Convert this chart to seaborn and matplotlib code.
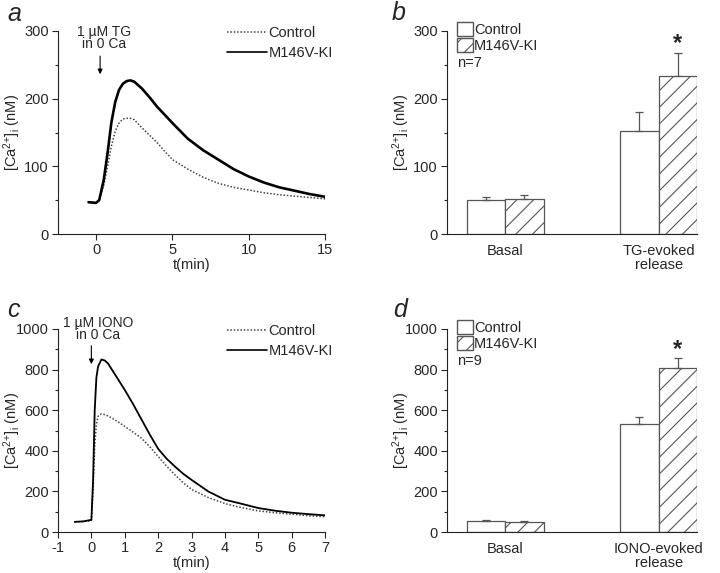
import pandas as pd
import matplotlib.pyplot as plt
import seaborn as sns
from matplotlib.patches import Patch
from matplotlib.lines import Line2D
from matplotlib.ticker import MultipleLocator

# ---- data ----
# panel a: TG-evoked release traces
t_a = [-0.5, 0.0, 0.2, 0.5, 0.75, 1.0, 1.25, 1.5, 1.75, 2.0, 2.25, 2.5, 3.0, 3.5,
       4.0, 4.5, 5.0, 6.0, 7.0, 8.0, 9.0, 10.0, 11.0, 12.0, 13.0, 14.0, 15.0]
ki_a = [47, 46, 50, 80, 120, 165, 195, 213, 222, 226, 227, 225, 215, 202,
        188, 176, 164, 141, 124, 110, 96, 85, 76, 69, 64, 59, 55]
ctrl_a = [47, 46, 50, 72, 100, 130, 152, 164, 170, 171, 171, 169, 157, 146,
          135, 122, 110, 96, 84, 75, 69, 65, 61, 58, 56, 54, 52]

# panel c: IONO-evoked release traces
t_c = [-0.5, -0.25, 0.0, 0.05, 0.1, 0.15, 0.2, 0.3, 0.4, 0.5, 0.75, 1.0, 1.25, 1.5,
       1.75, 2.0, 2.25, 2.5, 2.75, 3.0, 3.5, 4.0, 4.5, 5.0, 5.5, 6.0, 6.5, 7.0]
ki_c = [50, 52, 60, 250, 600, 760, 815, 850, 845, 830, 765, 700, 630, 555,
        480, 410, 362, 323, 287, 257, 200, 159, 139, 118, 105, 95, 88, 82]
ctrl_c = [50, 52, 55, 200, 420, 530, 570, 582, 578, 572, 548, 520, 492, 462,
          420, 372, 325, 282, 243, 210, 170, 140, 120, 104, 95, 88, 80, 75]

# panels b and d: bar summaries (mean, SEM)
groups_b = ['Basal', 'TG-evoked\nrelease']
ctrl_b = [50, 152]
ki_b = [52, 233]
ctrl_b_err = [5, 29]
ki_b_err = [6, 34]

groups_d = ['Basal', 'IONO-evoked\nrelease']
ctrl_d = [52, 530]
ki_d = [48, 809]
ctrl_d_err = [6, 38]
ki_d_err = [4, 50]

sns.set_style('ticks')
plt.rcParams['font.family'] = ['Liberation Sans', 'DejaVu Sans']
plt.rcParams['mathtext.default'] = 'regular'
plt.rcParams['axes.unicode_minus'] = False
plt.rcParams['font.size'] = 10.5
plt.rcParams['xtick.direction'] = 'out'
plt.rcParams['ytick.direction'] = 'out'
plt.rcParams['hatch.color'] = '#444444'
plt.rcParams['hatch.linewidth'] = 0.8

fig = plt.figure(figsize=(7.2, 5.73), dpi=100)
W, H = 720, 573


def add_ax(left, top, right, bottom):
    return fig.add_axes([left / W, 1 - bottom / H, (right - left) / W, (bottom - top) / H])


ylab = '[Ca$^{2{+}}$]$_{i}$ (nM)'


def style_ax(ax, ymaj, ymin, ylab_x):
    sns.despine(ax=ax)
    for s in ['left', 'bottom']:
        ax.spines[s].set_linewidth(0.8)
        ax.spines[s].set_color('#222222')
    ax.yaxis.set_major_locator(MultipleLocator(ymaj))
    ax.yaxis.set_minor_locator(MultipleLocator(ymin))
    ax.tick_params(which='major', length=4, width=0.8, labelsize=10.5, pad=2.5)
    ax.tick_params(which='minor', length=2.5, width=0.8)
    ax.set_ylabel(ylab, fontsize=10.5)
    ax.yaxis.set_label_coords(ylab_x, 0.5)


def trace_panel(ax, t, ctrl, ki, xlim, ylim, xmaj, ymaj, ymin, ki_lw,
                txt, arrow_x, arrow_from, arrow_to, txt_x, txt_y):
    df_c = pd.DataFrame({'t': t, 'ca': ctrl})
    df_k = pd.DataFrame({'t': t, 'ca': ki})
    sns.lineplot(data=df_c, x='t', y='ca', ax=ax, color='#444444', linestyle=(0, (1, 1.2)), linewidth=1.1)
    sns.lineplot(data=df_k, x='t', y='ca', ax=ax, color='black', linewidth=ki_lw)
    ax.set_xlim(*xlim)
    ax.set_ylim(*ylim)
    ax.xaxis.set_major_locator(MultipleLocator(xmaj))
    style_ax(ax, ymaj, ymin, -0.13)
    ax.set_xlabel('t(min)', fontsize=10.5, labelpad=1)
    ax.annotate('', xy=(arrow_x, arrow_to), xytext=(arrow_x, arrow_from),
                arrowprops=dict(arrowstyle='-|>', color='black', lw=0.8, mutation_scale=7))
    ax.text(txt_x, txt_y, txt, ha='center', va='bottom', fontsize=10, linespacing=0.85)
    handles = [Line2D([], [], color='#444444', linestyle=(0, (1, 1.2)), linewidth=1.1),
               Line2D([], [], color='black', linewidth=1.2)]
    ax.legend(handles, ['Control', 'M146V-KI'], loc='upper left', bbox_to_anchor=(0.633, 1.025),
              frameon=False, handlelength=2.75, handletextpad=0.1, labelspacing=0.4, fontsize=10.5,
              borderpad=0, borderaxespad=0)


def bar_panel(ax, groups, ctrl, ki, ctrl_err, ki_err, ylim, ymaj, ymin, n_txt, star_off):
    df = pd.DataFrame({
        'group': groups + groups,
        'cond': ['Control'] * len(groups) + ['M146V-KI'] * len(groups),
        'ca': ctrl + ki,
    })
    sns.barplot(data=df, x='group', y='ca', hue='cond', ax=ax, width=0.5, gap=0,
                palette=['white', 'white'], edgecolor='#555555', linewidth=0.9,
                errorbar=None, legend=False)
    errs = [ctrl_err, ki_err]
    bar_conts = list(ax.containers[:2])
    for i, cont in enumerate(bar_conts):
        for j, bar in enumerate(cont):
            if i == 1:
                bar.set_hatch('//')
            xc = bar.get_x() + bar.get_width() / 2
            ax.errorbar(xc, bar.get_height(), yerr=[[0], [errs[i][j]]], color='#555555',
                        capsize=3, elinewidth=0.9, capthick=0.9, fmt='none')
    top_bar = bar_conts[1][1]
    ax.text(top_bar.get_x() + top_bar.get_width() / 2, top_bar.get_height() + ki_err[1] + star_off,
            '*', ha='center', va='center', fontsize=17, fontweight='bold')
    ax.set_xlim(-0.38, 1.25)
    ax.set_ylim(*ylim)
    style_ax(ax, ymaj, ymin, -0.14)
    ax.tick_params(axis='x', length=0, pad=7)
    for lab in ax.get_xticklabels():
        lab.set_linespacing(1.05)
    ax.set_xlabel('')
    handles = [Patch(facecolor='white', edgecolor='#555555'),
               Patch(facecolor='white', edgecolor='#555555', hatch='//')]
    ax.legend(handles, ['Control', 'M146V-KI'], loc='upper left', bbox_to_anchor=(0.03, 1.06),
              frameon=False, handlelength=1.05, handleheight=1.15, handletextpad=0.1,
              labelspacing=0.05, fontsize=10.5, borderpad=0.1, borderaxespad=0.1)
    ax.text(0.04, 0.875, n_txt, transform=ax.transAxes, ha='left', va='top', fontsize=10.5)


# panel a
ax_a = add_ax(58, 31, 325, 234)
trace_panel(ax_a, t_a, ctrl_a, ki_a, (-2.5, 15), (0, 300), 5, 100, 50, 1.9,
            '1 \u00b5M TG\nin 0 Ca', 0.26, 267, 232, 0.49, 270)

# panel b
ax_b = add_ax(447, 31, 697, 234)
bar_panel(ax_b, groups_b, ctrl_b, ki_b, ctrl_b_err, ki_b_err, (0, 300), 100, 50, 'n=7', 14)

# panel c
ax_c = add_ax(58, 329, 325, 532)
trace_panel(ax_c, t_c, ctrl_c, ki_c, (-1, 7), (0, 1000), 1, 200, 100, 1.3,
            '1 \u00b5M IONO\nin 0 Ca', 0.0, 931, 813, 0.2, 935)

# panel d
ax_d = add_ax(447, 329, 697, 532)
bar_panel(ax_d, groups_d, ctrl_d, ki_d, ctrl_d_err, ki_d_err, (0, 1000), 200, 100, 'n=9', 42)

# panel letters
for letter, (px, py) in zip('abcd', [(7, 14), (392, 13), (7, 310), (393, 310)]):
    fig.text(px / W, 1 - py / H, letter, fontsize=18, style='italic', ha='left', va='center')

plt.savefig('out.png', dpi=100)
